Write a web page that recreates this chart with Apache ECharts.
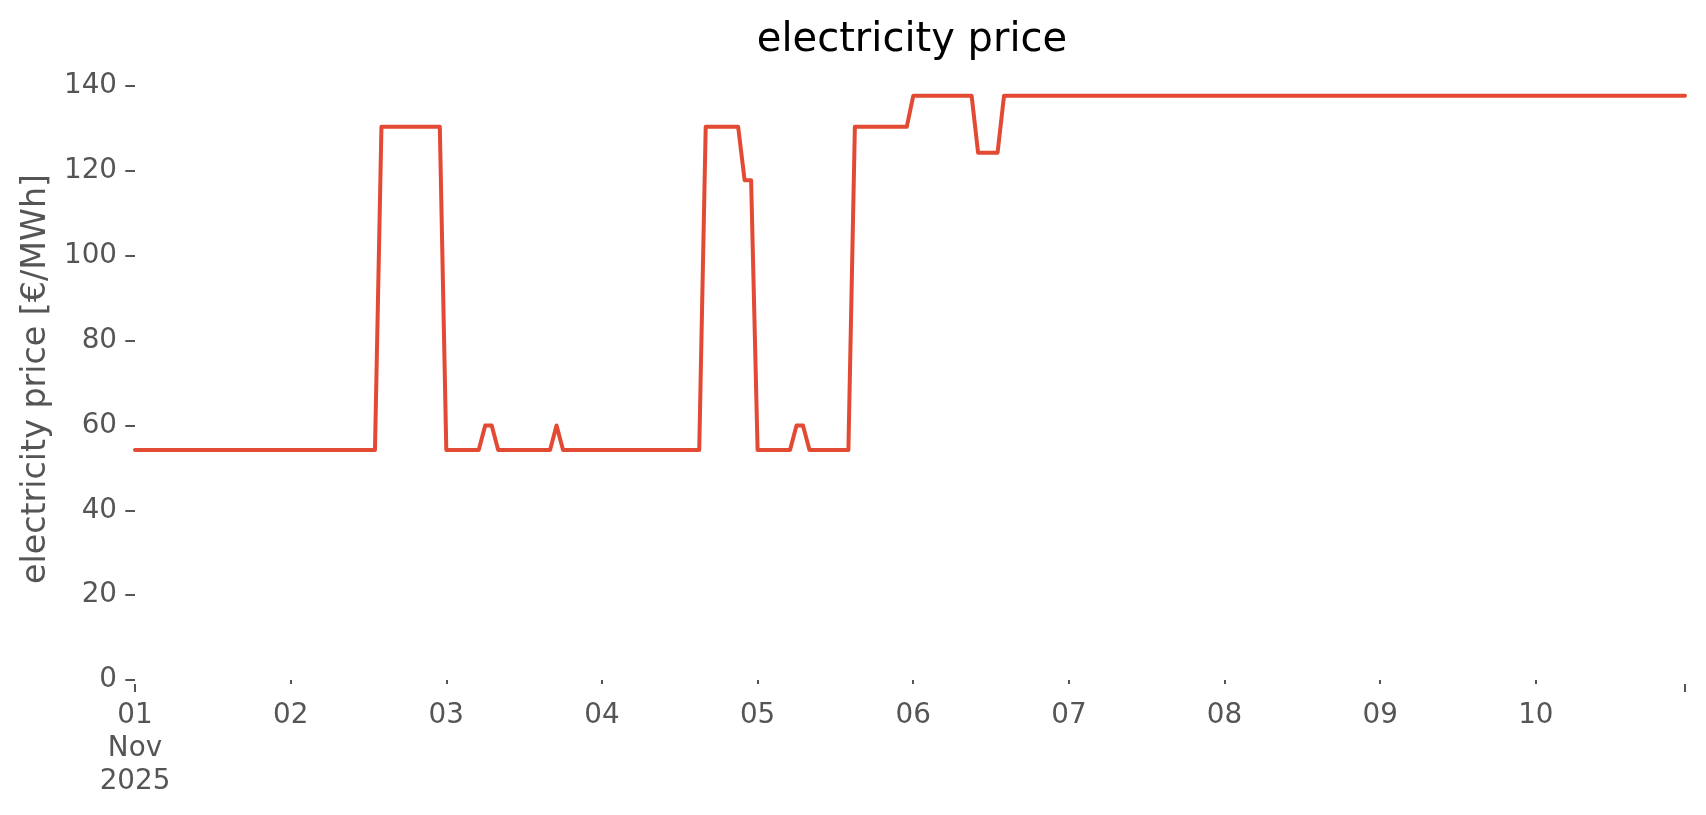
<!DOCTYPE html>
<html><head><meta charset="utf-8">
<script src="https://cdn.jsdelivr.net/npm/echarts@6/dist/echarts.min.js"></script>
<style>html,body{margin:0;padding:0;background:#fff}#c{width:1706px;height:815px}</style>
</head><body><div id="c"></div>
<script>
const chartTitle = 'electricity price';
const yAxisName = 'electricity price [€/MWh]';
const dayLabels = ['01\nNov\n2025', '02', '03', '04', '05', '06', '07', '08', '09', '10'];
const dayTickHours = [0, 24, 48, 72, 96, 120, 144, 168, 192, 216];
const endTickHours = [0, 239];
const yTicks = [0, 20, 40, 60, 80, 100, 120, 140];
// hourly price, 2025-11-01 00:00 .. 2025-11-10 23:00 (one row per day)
const price = [
  54.2,54.2,54.2,54.2,54.2,54.2,54.2,54.2,54.2,54.2,54.2,54.2,54.2,54.2,54.2,54.2,54.2,54.2,54.2,54.2,54.2,54.2,54.2,54.2,
  54.2,54.2,54.2,54.2,54.2,54.2,54.2,54.2,54.2,54.2,54.2,54.2,54.2,54.2,130.4,130.4,130.4,130.4,130.4,130.4,130.4,130.4,130.4,130.4,
  54.2,54.2,54.2,54.2,54.2,54.2,60.0,60.0,54.2,54.2,54.2,54.2,54.2,54.2,54.2,54.2,54.2,60.0,54.2,54.2,54.2,54.2,54.2,54.2,
  54.2,54.2,54.2,54.2,54.2,54.2,54.2,54.2,54.2,54.2,54.2,54.2,54.2,54.2,54.2,54.2,130.4,130.4,130.4,130.4,130.4,130.4,117.8,117.8,
  54.2,54.2,54.2,54.2,54.2,54.2,60.0,60.0,54.2,54.2,54.2,54.2,54.2,54.2,54.2,130.4,130.4,130.4,130.4,130.4,130.4,130.4,130.4,130.4,
  137.7,137.7,137.7,137.7,137.7,137.7,137.7,137.7,137.7,137.7,124.3,124.3,124.3,124.3,137.7,137.7,137.7,137.7,137.7,137.7,137.7,137.7,137.7,137.7,
  137.7,137.7,137.7,137.7,137.7,137.7,137.7,137.7,137.7,137.7,137.7,137.7,137.7,137.7,137.7,137.7,137.7,137.7,137.7,137.7,137.7,137.7,137.7,137.7,
  137.7,137.7,137.7,137.7,137.7,137.7,137.7,137.7,137.7,137.7,137.7,137.7,137.7,137.7,137.7,137.7,137.7,137.7,137.7,137.7,137.7,137.7,137.7,137.7,
  137.7,137.7,137.7,137.7,137.7,137.7,137.7,137.7,137.7,137.7,137.7,137.7,137.7,137.7,137.7,137.7,137.7,137.7,137.7,137.7,137.7,137.7,137.7,137.7,
  137.7,137.7,137.7,137.7,137.7,137.7,137.7,137.7,137.7,137.7,137.7,137.7,137.7,137.7,137.7,137.7,137.7,137.7,137.7,137.7,137.7,137.7,137.7,137.7
];

const FONT = 'DejaVu Sans';
const GREY = '#555555';
const chart = echarts.init(document.getElementById('c'), null, {renderer: 'canvas'});
chart.setOption({
  animation: false,
  backgroundColor: '#ffffff',
  title: {
    text: chartTitle, left: 907, top: 16, textAlign: 'center',
    textStyle: {fontFamily: FONT, fontSize: 40, fontWeight: 'normal', color: '#000000'}
  },
  grid: {left: 135, right: 21, top: 78, bottom: 135},
  xAxis: [
    {
      type: 'value', min: 0, max: price.length - 1, offset: 4,
      axisLine: {show: false}, splitLine: {show: false},
      axisTick: {show: true, customValues: dayTickHours.slice(1), length: 4, lineStyle: {color: GREY, width: 2}},
      axisLabel: {
        customValues: dayTickHours, color: GREY, fontFamily: FONT, fontSize: 27.8, lineHeight: 33.3, margin: 15,
        formatter: v => dayLabels[Math.round(v / 24)] || ''
      }
    },
    {
      type: 'value', min: 0, max: price.length - 1, position: 'bottom', offset: 4,
      axisLine: {show: false}, splitLine: {show: false}, axisLabel: {show: false},
      axisTick: {show: true, customValues: endTickHours, length: 8, lineStyle: {color: GREY, width: 2}}
    }
  ],
  yAxis: {
    type: 'value', min: 0, max: 141.9,
    name: yAxisName, nameLocation: 'middle', nameGap: 77,
    nameTextStyle: {fontFamily: FONT, fontSize: 33.3, color: GREY},
    axisLine: {show: false}, splitLine: {show: false},
    axisTick: {show: true, customValues: yTicks, length: 9.7, lineStyle: {color: GREY, width: 2}},
    axisLabel: {customValues: yTicks, color: GREY, fontFamily: FONT, fontSize: 27.8, margin: 18}
  },
  series: [{
    type: 'line', xAxisIndex: 0,
    data: price.map((v, i) => [i, v]),
    showSymbol: false, symbol: 'none',
    lineStyle: {color: '#E24A33', width: 4, join: 'round', cap: 'round'}
  }]
});
</script></body></html>
